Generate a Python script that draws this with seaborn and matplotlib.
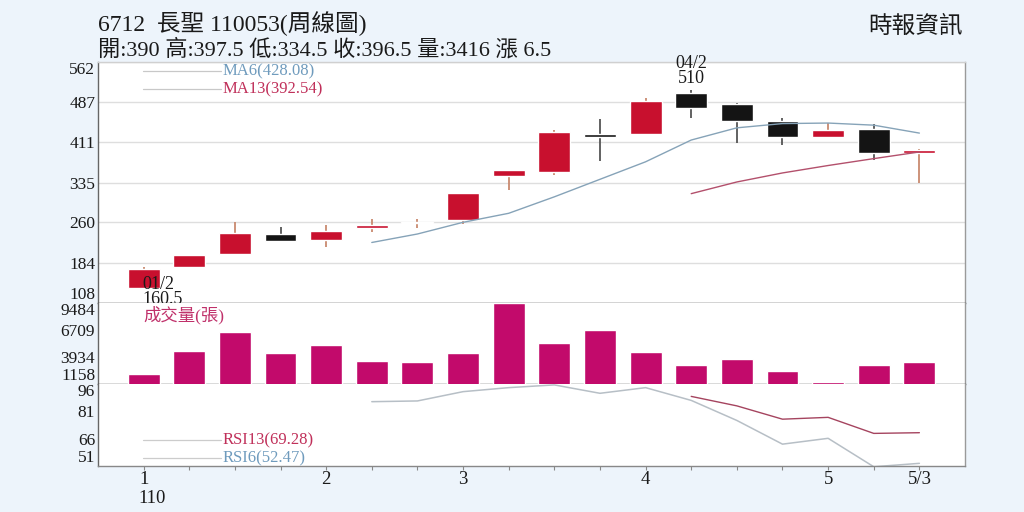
import matplotlib
matplotlib.use('Agg')
import matplotlib.pyplot as plt
import matplotlib.transforms as mtransforms
import seaborn as sns
import pandas as pd

# weekly candles (index 0 = first week of 110/01)
weeks = list(range(18))
opens = [137, 175, 200, 238, 227, 249.5, 259, 265, 348, 355, 427, 426, 504, 482, 451, 421, 436, 390]
closes = [172, 198, 239, 225, 244, 254.5, 261.5, 315, 358, 430, 421, 489, 476, 451, 420, 434, 390, 396.5]
highs = [176, 199, 260, 252, 254, 266, 266, 316, 358, 433, 454, 494, 510, 484, 457, 447, 446, 397.5]
lows = [137, 175, 200, 222, 213, 242, 250, 257, 321, 350, 375, 424, 457, 410, 406, 421, 377, 334.5]

# moving averages (as drawn)
ma6_weeks = weeks[5:]
ma6 = [222, 238, 260, 277, 308, 341, 374, 415, 438, 446, 447, 443, 428.08]
ma13_weeks = weeks[12:]
ma13 = [314, 336, 353, 367, 380, 392.54]

# volume (張)
volume = [2217, 4581, 6504, 4304, 5198, 3481, 3447, 4375, 9484, 5404, 6709, 4448,
          3070, 3759, 2525, 1400, 3111, 3416]

# RSI lines
rsi6_weeks = weeks[5:]
rsi6 = [86.3, 86.7, 91.8, 94.0, 95.5, 90.9, 94.0, 87.0, 76.0, 63.0, 66.2, 50.6, 52.47]
rsi13_weeks = weeks[12:]
rsi13 = [89.2, 84.0, 76.7, 77.7, 68.9, 69.28]

price_ticks = [108, 184, 260, 335, 411, 487, 562]
vol_ticks = [1158, 3934, 6709, 9484]
rsi_ticks = [51, 66, 81, 96]
xtick_labels = {0: '1', 4: '2', 7: '3', 11: '4', 15: '5', 17: '5/3'}

RED = '#c8102e'
BLACK = '#141414'
BG = '#edf4fb'

sns.set_theme(style='white')
plt.rcParams['font.family'] = ['Liberation Serif', 'Noto Sans CJK TC', 'DejaVu Sans']

fig = plt.figure(figsize=(10.24, 5.12), dpi=100, facecolor=BG)
ax1 = fig.add_axes([0.0957, 0.4082, 0.8467, 0.4707])
ax2 = fig.add_axes([0.0957, 0.2500, 0.8467, 0.1582])
ax3 = fig.add_axes([0.0957, 0.0898, 0.8467, 0.1602])

# --- price panel: candles
for i in weeks:
    up = closes[i] >= opens[i]
    body_col = RED if up else BLACK
    wick_col = '#c98a70' if up else '#555555'
    ax1.vlines(i, lows[i], highs[i], color=wick_col, lw=1.3, zorder=2)
    bottom = min(opens[i], closes[i])
    height = max(abs(closes[i] - opens[i]), 1.5)
    ax1.bar(i, height, bottom=bottom, width=0.7, color=body_col, zorder=3)

ma_df = pd.DataFrame({'week': ma6_weeks, 'ma6': ma6})
sns.lineplot(data=ma_df, x='week', y='ma6', ax=ax1, color='#86a3b8', lw=1.0, zorder=4)
ma13_df = pd.DataFrame({'week': ma13_weeks, 'ma13': ma13})
sns.lineplot(data=ma13_df, x='week', y='ma13', ax=ax1, color='#b3506c', lw=1.0, zorder=4)

ax1.set_ylim(price_ticks[0], price_ticks[-1])
ax1.set_yticks(price_ticks)
ax1.set_yticklabels([str(v) for v in price_ticks])
ax1.yaxis.grid(True, color='#dedede', lw=1.0)
ax1.set_axisbelow(True)

# legend for MAs
for yy, txt, col in [(0.9625, 'MA6(428.08)', '#6f9bbd'), (0.8875, 'MA13(392.54)', '#c0305a')]:
    ax1.plot([0.052, 0.142], [yy, yy], color='#c8c8c8', lw=0.9, transform=ax1.transAxes)
    ax1.text(0.144, yy, txt, color=col, fontsize=12, va='center', ha='left', transform=ax1.transAxes)

# high / low annotations
ax1.text(12, highs[12] + 4, '04/2\n510', ha='center', va='bottom', fontsize=13,
         linespacing=0.85, color='#1a1a1a', zorder=6)
ax1.text(-0.02, 158, '01/2\n160.5', ha='left', va='top', fontsize=13,
         linespacing=0.8, color='#1a1a1a', zorder=6, clip_on=False)

# --- volume panel
vol_df = pd.DataFrame({'week': weeks, 'volume': volume})
sns.barplot(data=vol_df, x='week', y='volume', ax=ax2, native_scale=True,
            color='#c20a6b', saturation=1, width=0.7, zorder=3)
ax2.set_ylim(vol_ticks[0], vol_ticks[-1])
ax2.set_yticks(vol_ticks)
ax2.set_yticklabels([str(v) for v in vol_ticks])
ax2.text(0.052, 0.85, '成交量(張)', color='#c0306a', fontsize=12.5, va='center', ha='left',
         transform=ax2.transAxes)

# --- RSI panel
rsi6_df = pd.DataFrame({'week': rsi6_weeks, 'rsi': rsi6})
sns.lineplot(data=rsi6_df, x='week', y='rsi', ax=ax3, color='#b7bfc6', lw=1.1)
rsi13_df = pd.DataFrame({'week': rsi13_weeks, 'rsi': rsi13})
sns.lineplot(data=rsi13_df, x='week', y='rsi', ax=ax3, color='#a5445f', lw=1.0)
ax3.set_ylim(rsi_ticks[0], rsi_ticks[-1])
ax3.set_yticks(rsi_ticks)
ax3.set_yticklabels([str(v) for v in rsi_ticks])
for yy, txt, col in [(0.317, 'RSI13(69.28)', '#c0305a'), (0.098, 'RSI6(52.47)', '#6f9bbd')]:
    ax3.plot([0.052, 0.142], [yy, yy], color='#cccccc', lw=0.9, transform=ax3.transAxes)
    ax3.text(0.144, yy, txt, color=col, fontsize=12, va='center', ha='left', transform=ax3.transAxes)

# x axis
for ax in (ax1, ax2, ax3):
    ax.set_xlim(-1, 18)
    ax.set_facecolor('white')
    ax.set_xlabel('')
    ax.set_ylabel('')
    ax.tick_params(axis='y', length=0, pad=2, labelsize=12.5, labelcolor='#1a1a1a')
    for s in ax.spines.values():
        s.set_linewidth(1.0)
    ax.spines['left'].set_color('#666666')
    ax.spines['right'].set_color('#9a9a9a')

ax1.set_xticks([])
ax2.set_xticks([])
ax3.set_xticks(weeks)
ax3.set_xticklabels([xtick_labels.get(w, '') for w in weeks])
ax3.tick_params(axis='x', length=3, width=0.8, color='#888888', labelsize=13.5, pad=0.5,
                labelcolor='#1a1a1a', bottom=True)
trans = mtransforms.blended_transform_factory(ax3.transData, ax3.transAxes)
ax3.text(-0.12, -0.40, '110', ha='left', va='center', fontsize=13.5, color='#1a1a1a',
         transform=trans)

ax1.spines['top'].set_color('#d0d0d0')
ax1.spines['bottom'].set_color('#444444')
ax2.spines['top'].set_visible(False)
ax2.spines['bottom'].set_color('#444444')
ax3.spines['top'].set_visible(False)
ax3.spines['bottom'].set_color('#888888')

# keep the end labels inside each panel
for ax in (ax1, ax2, ax3):
    labels = ax.get_yticklabels()
    labels[0].set_va('bottom')
    labels[-1].set_va('top')

# header
fig.text(98 / 1024, 1 - 24 / 512, '6712  長聖 110053(周線圖)', fontsize=17,
         ha='left', va='center', color='#1a1a1a')
fig.text(98 / 1024, 1 - 50 / 512, '開:390 高:397.5 低:334.5 收:396.5 量:3416 漲 6.5',
         fontsize=16, ha='left', va='center', color='#1a1a1a')
fig.text(963 / 1024, 1 - 27 / 512, '時報資訊', fontsize=17, ha='right', va='center',
         color='#1a1a1a')

fig.savefig('out.png', dpi=100, facecolor=BG)
